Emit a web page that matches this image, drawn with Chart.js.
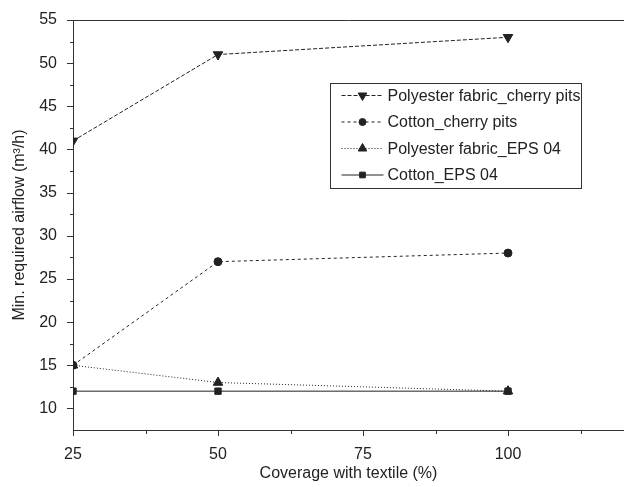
<!DOCTYPE html>
<html>
<head>
<meta charset="utf-8">
<script src="https://cdn.jsdelivr.net/npm/chart.js@4.4.0/dist/chart.umd.min.js"></script>
<style>
  html, body { margin: 0; padding: 0; background: #fff; }
  #wrap { width: 624px; height: 487px; }
</style>
</head>
<body>
<div id="wrap"><canvas id="airflowChart" width="624" height="487"></canvas></div>
<script>
// Data
const coverage = [25, 50, 100];
const polyCherry = [41, 51, 53];
const cottonCherry = [15, 27, 28];
const polyEps = [15, 13, 12];
const cottonEps = [12, 12, 12];
const seriesNames = ['Polyester fabric_cherry pits', 'Cotton_cherry pits', 'Polyester fabric_EPS 04', 'Cotton_EPS 04'];
const xMajor = [25, 50, 75, 100];
const xMinor = [37.5, 62.5, 87.5, 112.5];
const yMajor = [10, 15, 20, 25, 30, 35, 40, 45, 50, 55];
const yMinor = [12.5, 17.5, 22.5, 27.5, 32.5, 37.5, 42.5, 47.5, 52.5];

const ink = '#222';
const fontFamily = '"Liberation Sans", Arial, sans-serif';

function pts(ys) {
  return coverage.map((x, i) => ({ x: x, y: ys[i] }));
}

function series(label, ys, style, rot, dash, r) {
  return {
    label: label,
    data: pts(ys),
    borderColor: ink,
    backgroundColor: ink,
    borderWidth: 1,
    borderDash: dash,
    pointStyle: style,
    pointRotation: rot,
    pointRadius: r,
    pointBorderWidth: 1,
    clip: 0,
    tension: 0
  };
}

// ticks, top frame and legend box
const extras = {
  id: 'extras',
  afterDraw(chart) {
    const c = chart.ctx;
    const a = chart.chartArea;
    const xs = chart.scales.x, ys = chart.scales.y;
    c.save();
    c.strokeStyle = '#333';
    c.lineWidth = 1;
    c.beginPath();
    c.moveTo(a.left, a.top + 0.5);
    c.lineTo(a.right, a.top + 0.5);
    xMajor.forEach(v => { const p = Math.round(xs.getPixelForValue(v)) + 0.5; c.moveTo(p, a.bottom); c.lineTo(p, a.bottom + 6); });
    xMinor.forEach(v => { const p = Math.round(xs.getPixelForValue(v)) + 0.5; c.moveTo(p, a.bottom); c.lineTo(p, a.bottom + 4); });
    yMajor.forEach(v => { const p = Math.round(ys.getPixelForValue(v)) + 0.5; c.moveTo(a.left, p); c.lineTo(a.left - 6, p); });
    yMinor.forEach(v => { const p = Math.round(ys.getPixelForValue(v)) + 0.5; c.moveTo(a.left, p); c.lineTo(a.left - 3, p); });
    c.stroke();

    // legend
    const bx = 330.5, by = 83.5, bw = 251, bh = 105;
    c.fillStyle = '#fff';
    c.fillRect(bx, by, bw, bh);
    c.strokeStyle = '#333';
    c.strokeRect(bx, by, bw, bh);
    c.font = '16px ' + fontFamily;
    c.textBaseline = 'middle';
    chart.data.datasets.forEach((ds, i) => {
      const yy = by + 12 + i * 26.5;
      c.strokeStyle = ink;
      c.lineWidth = 1;
      c.setLineDash(ds.borderDash || []);
      c.beginPath();
      c.moveTo(bx + 11, yy);
      c.lineTo(bx + 53, yy);
      c.stroke();
      c.setLineDash([]);
      c.fillStyle = ink;
      Chart.helpers.drawPoint(c, { pointStyle: ds.pointStyle, rotation: ds.pointRotation, radius: ds.pointRadius - 0.5, borderWidth: 1 }, bx + 32, yy);
      c.fillStyle = '#222';
      c.fillText(ds.label, bx + 57, yy + 1);
    });
    c.restore();
  }
};

new Chart(document.getElementById('airflowChart'), {
  type: 'line',
  data: {
    datasets: [
      series(seriesNames[0], polyCherry, 'triangle', 180, [4, 2], 5.5),
      series(seriesNames[1], cottonCherry, 'circle', 0, [3, 3], 4),
      series(seriesNames[2], polyEps, 'triangle', 0, [1, 2], 5.5),
      series(seriesNames[3], cottonEps, 'rect', 0, [], 4.5)
    ]
  },
  options: {
    responsive: false,
    animation: false,
    layout: { autoPadding: false, padding: { top: 20, right: 0, left: 0, bottom: 0 } },
    plugins: { legend: { display: false }, tooltip: { enabled: false } },
    scales: {
      x: {
        type: 'linear',
        min: 25,
        max: 120,
        afterFit(s) { s.height = 57; s.paddingRight = 0; s.paddingLeft = 0; },
        grid: { display: false },
        border: { display: true, color: '#333', width: 1 },
        ticks: {
          stepSize: 25,
          color: '#222',
          font: { family: fontFamily, size: 16 },
          padding: 7,
          maxRotation: 0,
          callback: v => (v % 25 === 0 && v <= 100) ? String(v) : ''
        },
        title: {
          display: true,
          text: 'Coverage with textile (%)',
          color: '#222',
          font: { family: fontFamily, size: 16 },
          padding: { top: 2, bottom: 4 }
        }
      },
      y: {
        min: 7.5,
        max: 55,
        afterFit(s) { s.width = 73; },
        grid: { display: false },
        border: { display: true, color: '#333', width: 1 },
        ticks: {
          stepSize: 5,
          color: '#222',
          font: { family: fontFamily, size: 16 },
          padding: 8,
          callback: v => (v % 5 === 0) ? String(v) : ''
        },
        title: {
          display: true,
          text: 'Min. required airflow (m³/h)',
          color: '#222',
          font: { family: fontFamily, size: 16 },
          padding: { top: 10, bottom: 4 }
        }
      }
    }
  },
  plugins: [extras]
});
</script>
</body>
</html>
